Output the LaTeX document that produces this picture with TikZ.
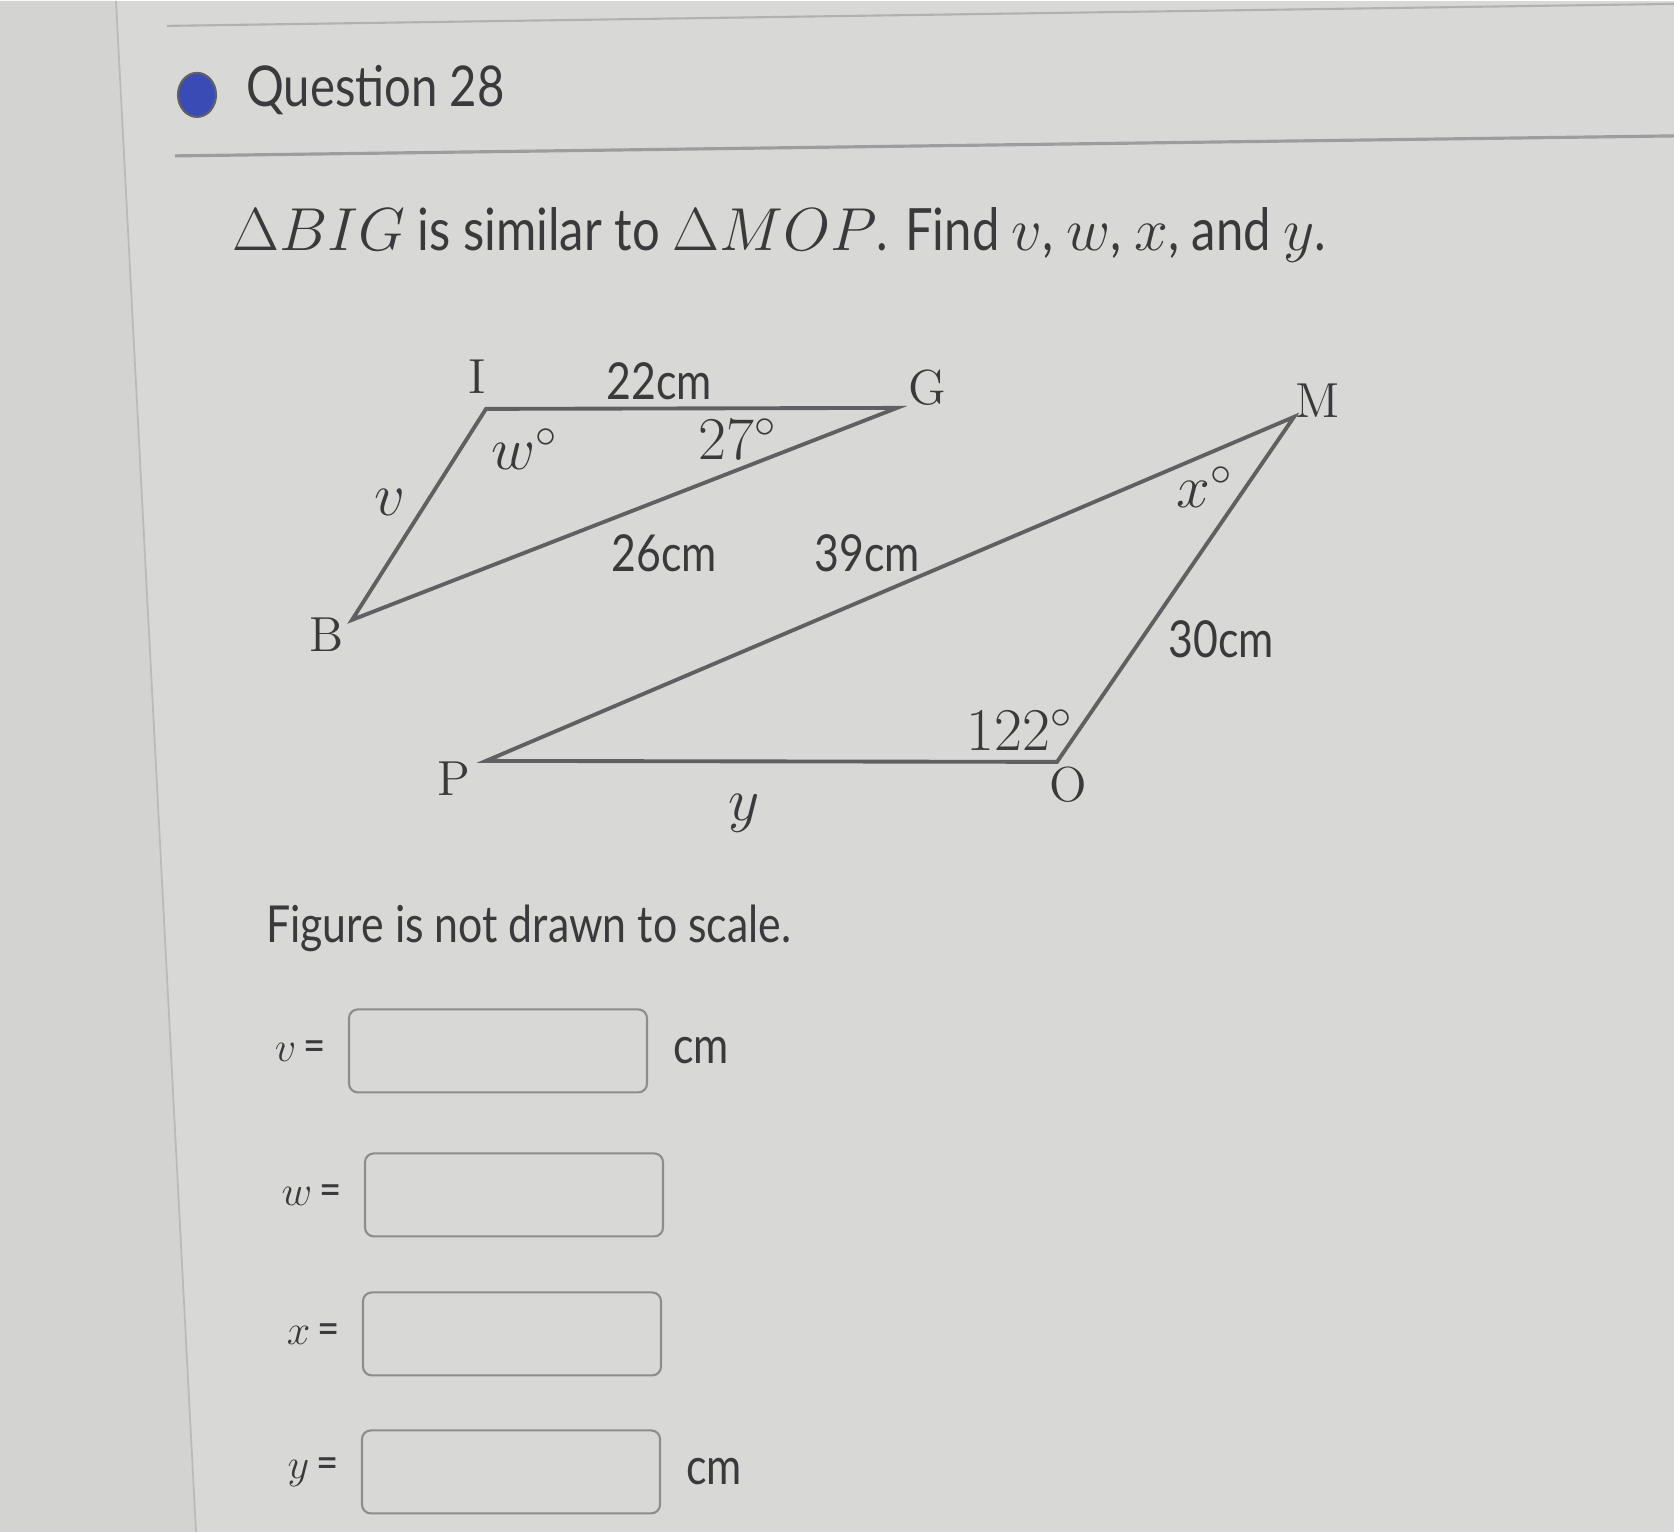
\documentclass[tikz,border=0pt]{standalone}
\usepackage{fontspec}
\setsansfont{Lato}[FakeStretch=0.84]
\usetikzlibrary{positioning}
\definecolor{screen}{HTML}{D8D9D6}
\definecolor{margin}{HTML}{D3D4D1}
\definecolor{ink}{HTML}{3A3A3C}
\definecolor{edge}{HTML}{606062}
\definecolor{rule}{HTML}{9C9D9E}
\definecolor{boxline}{HTML}{8C8D8C}
\definecolor{dot}{HTML}{3A4BB6}

\begin{document}
\begin{tikzpicture}[x=0.1mm,y=-0.1mm,every node/.style={align=center,text=ink,inner sep=1pt},
vertex/.style={font=\fontsize{14}{16}\selectfont},
side/.style={font=\sffamily\fontsize{14.5}{17}\selectfont},
angle/.style={font=\fontsize{17}{19}\selectfont},
answer/.style={draw=boxline,line width=0.6pt,rounded corners=2.5pt,minimum width=2.98cm,minimum height=0.83cm}]
% page
\fill[screen] (0,0) rectangle (1674,1531);
\fill[margin] (0,0) -- (116,0) -- (196,1531) -- (0,1531) -- cycle;
\draw[rule!70,line width=0.5pt] (116,0) -- (196,1531);
\useasboundingbox (0,0) rectangle (1674,1531);
\draw[rule!80,line width=0.6pt] (167,25) -- (1674,3);
\draw[rule,line width=0.9pt] (175,155) -- (1674,135);

% heading
\fill[dot,draw=ink!80,line width=0.6pt] (197,94) ellipse (19 and 22);
\node[anchor=west,font=\sffamily\fontsize{16}{19}\selectfont] (head) at (242,89) {Question 28};
\node[anchor=west,font=\sffamily\fontsize{16.6}{19}\selectfont] (task) at (228,234)
  {$\Delta BIG$ is similar to $\Delta MOP$. Find $v$, $w$, $x$, and $y$.};

% triangles
\coordinate (B) at (352,619);
\coordinate (I) at (486,408);
\coordinate (G) at (897,407);
\coordinate (M) at (1294,416);
\coordinate (O) at (1057,761);
\coordinate (P) at (486,760);
\draw[edge,line width=1.1pt,line join=miter] (B) -- (I) -- (G) -- cycle;
\draw[edge,line width=1.1pt,line join=miter] (M) -- (O) -- (P) -- cycle;

\node[vertex] (lI) at (477,376) {I};
\node[vertex] (lG) at (927,387) {G};
\node[vertex] (lB) at (327,634) {B};
\node[vertex] (lM) at (1318,400) {M};
\node[vertex] (lO) at (1068,784) {O};
\node[vertex] (lP) at (454,778) {P};

\node[side] (sIG) at (659,380) {22cm};
\node[side] (sBG) at (664,552) {26cm};
\node[side] (sMP) at (867,552) {39cm};
\node[side] (sMO) at (1221,638) {30cm};
\node[angle] (aG) at (738,438) {$27^\circ$};
\node[angle] (aO) at (1020,729) {$122^\circ$};
\node[angle] (aI) at (525,448) {$w^\circ$};
\node[angle] (aM) at (1205,486) {$x^\circ$};
\node[angle] (sBI) at (390,502) {$v$};
\node[angle] (sOP) at (744,812) {$y$};

% answers
\node[anchor=west,font=\sffamily\fontsize{14.5}{17}\selectfont] (note) at (262,927) {Figure is not drawn to scale.};

\node[answer] (bv) at (498,1050) {};
\node[answer] (bw) at (514,1194) {};
\node[answer] (bx) at (512,1333) {};
\node[answer] (by) at (511,1471) {};
\node[left=5pt of bv,font=\fontsize{13}{15}\selectfont] (qv) {$v$\,\textsf{=}};
\node[left=5pt of bw,font=\fontsize{13}{15}\selectfont] (qw) {$w$\,\textsf{=}};
\node[left=5pt of bx,font=\fontsize{13}{15}\selectfont] (qx) {$x$\,\textsf{=}};
\node[left=5pt of by,font=\fontsize{13}{15}\selectfont] (qy) {$y$\,\textsf{=}};
\node[right=6pt of bv,font=\sffamily\fontsize{14.5}{17}\selectfont] (uv) {cm};
\node[right=6pt of by,font=\sffamily\fontsize{14.5}{17}\selectfont] (uy) {cm};
\end{tikzpicture}
\end{document}
